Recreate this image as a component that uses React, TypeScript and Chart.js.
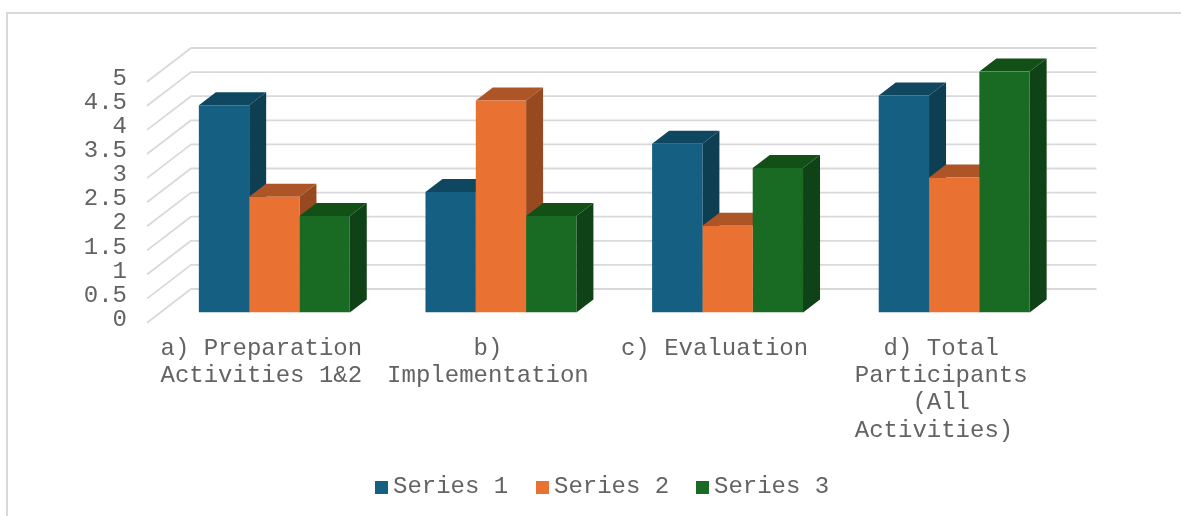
import React, { useEffect, useRef } from "react";
import { Chart, registerables } from "chart.js";

Chart.register(...registerables);

const categories = [
  ["a) Preparation", "Activities 1&2"],
  ["b)", "Implementation"],
  ["c) Evaluation"],
  ["d) Total", "Participants", "(All", "Activities) "],
];
const seriesNames = ["Series 1", "Series 2", "Series 3"];
const series1 = [4.3, 2.5, 3.5, 4.5];
const series2 = [2.4, 4.4, 1.8, 2.8];
const series3 = [2, 2, 3, 5];
const seriesValues = [series1, series2, series3];
const frontColors = ["#156082", "#E97132", "#196B24"];
const topColors = ["#0F4761", "#AD5527", "#135018"];
const sideColors = ["#0D3E52", "#974A20", "#0F4216"];

const FONT = '"Liberation Mono", "Courier New", monospace';
const TEXT = "#636363";
const GRID = "#D9D9D9";
const BAR_DX = 17;
const BAR_DY = 13;

const scene3d = {
  id: "scene3d",
  beforeDraw(chart: any) {
    const { ctx, width, height } = chart;
    ctx.save();
    ctx.fillStyle = "#FFFFFF";
    ctx.fillRect(0, 0, width, height);
    ctx.strokeStyle = GRID;
    ctx.lineWidth = 2;
    ctx.beginPath();
    ctx.moveTo(7, height);
    ctx.lineTo(7, 13);
    ctx.lineTo(width, 13);
    ctx.stroke();
    ctx.restore();
  },
  beforeDatasetsDraw(chart: any) {
    const { ctx, chartArea, scales } = chart;
    const y = scales.y;
    ctx.save();
    ctx.strokeStyle = GRID;
    ctx.lineWidth = 1.8;
    ctx.lineJoin = "round";
    y.ticks.forEach((t: any) => {
      const py = y.getPixelForValue(t.value);
      ctx.beginPath();
      ctx.moveTo(chartArea.left - 14, py + 10.2);
      ctx.lineTo(chartArea.left + 30, py - 23.5);
      ctx.lineTo(chartArea.right + 29, py - 23.5);
      ctx.stroke();
    });
    chart.data.datasets.forEach((_: any, di: number) => {
      const meta = chart.getDatasetMeta(di);
      meta.data.forEach((bar: any) => {
        const half = bar.width / 2;
        const l = bar.x - half;
        const r = bar.x + half;
        const t = bar.y;
        const b = bar.base;
        ctx.fillStyle = topColors[di];
        ctx.beginPath();
        ctx.moveTo(l, t);
        ctx.lineTo(l + BAR_DX, t - BAR_DY);
        ctx.lineTo(r + BAR_DX, t - BAR_DY);
        ctx.lineTo(r, t);
        ctx.closePath();
        ctx.fill();
        ctx.fillStyle = sideColors[di];
        ctx.beginPath();
        ctx.moveTo(r, t);
        ctx.lineTo(r + BAR_DX, t - BAR_DY);
        ctx.lineTo(r + BAR_DX, b - BAR_DY);
        ctx.lineTo(r, b);
        ctx.closePath();
        ctx.fill();
      });
    });
    ctx.restore();
  },
  afterDraw(chart: any) {
    const { ctx } = chart;
    const boxX = [375, 536, 696];
    ctx.save();
    ctx.font = `24px ${FONT}`;
    ctx.textBaseline = "middle";
    chart.data.datasets.forEach((d: any, i: number) => {
      ctx.fillStyle = d.backgroundColor;
      ctx.fillRect(boxX[i], 481, 13, 13);
      ctx.fillStyle = TEXT;
      ctx.fillText(d.label, boxX[i] + 18, 487);
    });
    ctx.restore();
  },
};

export default function App() {
  const ref = useRef<HTMLCanvasElement>(null);
  useEffect(() => {
    document.body.style.margin = "0";
    const chart = new Chart(ref.current as HTMLCanvasElement, {
      type: "bar",
      data: {
        labels: categories,
        datasets: seriesNames.map((name, i) => ({
          label: name,
          data: seriesValues[i],
          backgroundColor: frontColors[i],
          barPercentage: 1,
          categoryPercentage: 0.666,
        })),
      },
      options: {
        responsive: false,
        animation: false,
        devicePixelRatio: 1,
        layout: { padding: { left: 0, top: 71.5, right: 113.5, bottom: 0 } },
        plugins: { legend: { display: false }, tooltip: { enabled: false } },
        scales: {
          x: {
            grid: { display: false },
            border: { display: false },
            afterFit(s: any) {
              s.height = 516 - 312.5;
            },
            ticks: {
              autoSkip: false,
              maxRotation: 0,
              minRotation: 0,
              padding: 14,
              labelOffset: -13,
              color: TEXT,
              font: { family: FONT, size: 24, lineHeight: 1.14 },
            },
          },
          y: {
            min: 0,
            max: 5,
            grid: { display: false },
            border: { display: false },
            afterFit(s: any) {
              s.width = 161;
            },
            ticks: {
              autoSkip: false,
              stepSize: 0.5,
              padding: 26,
              labelOffset: 7,
              color: TEXT,
              font: { family: FONT, size: 24 },
              callback: (v: any) => String(v),
            },
          },
        },
      },
      plugins: [scene3d],
    } as any);
    return () => chart.destroy();
  }, []);
  return <canvas ref={ref} width={1181} height={516} style={{ display: "block" }} />;
}
